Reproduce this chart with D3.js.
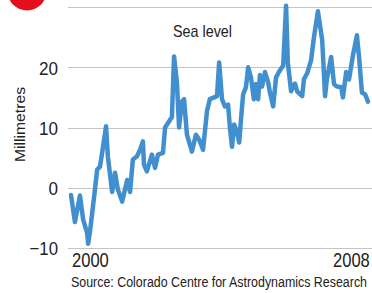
<!DOCTYPE html>
<html>
<head>
<meta charset="utf-8">
<script src="https://cdn.jsdelivr.net/npm/d3@7"></script>
<style>
  html, body { margin: 0; padding: 0; background: #fff; }
  svg { display: block; }
  text { font-family: "Liberation Sans", Arial, sans-serif; fill: #222; }
</style>
</head>
<body>
<svg id="chart" width="372" height="293"></svg>
<script>
// Sea level anomaly (mm)
const years = [
  2000.00, 2000.11, 2000.25, 2000.34, 2000.45, 2000.48, 2000.53, 2000.67, 2000.73, 2000.81,
  2000.87, 2000.98, 2001.03, 2001.15, 2001.23, 2001.31, 2001.43, 2001.57, 2001.65, 2001.73,
  2001.84, 2001.93, 2002.01, 2002.04, 2002.12, 2002.26, 2002.35, 2002.43, 2002.57, 2002.63,
  2002.77, 2002.82, 2002.88, 2002.96, 2003.02, 2003.10, 2003.16, 2003.24, 2003.38, 2003.49,
  2003.58, 2003.69, 2003.80, 2003.88, 2004.00, 2004.08, 2004.14, 2004.22, 2004.30, 2004.39,
  2004.44, 2004.50, 2004.56, 2004.64, 2004.70, 2004.75, 2004.81, 2004.89, 2004.95, 2005.03,
  2005.11, 2005.17, 2005.23, 2005.28, 2005.34, 2005.42, 2005.51, 2005.56, 2005.65, 2005.73,
  2005.81, 2005.93, 2006.01, 2006.06, 2006.15, 2006.20, 2006.26, 2006.32, 2006.46, 2006.51,
  2006.60, 2006.71, 2006.79, 2006.90, 2007.02, 2007.10, 2007.15, 2007.27, 2007.35, 2007.43,
  2007.55, 2007.60, 2007.69, 2007.77, 2007.88, 2007.99, 2008.05, 2008.13, 2008.22, 2008.30
];
const seaLevel = [
  -1.2, -5.7, -1.3, -5.3, -7.5, -9.3, -7.3, -0.3, 3.0, 3.5,
  5.8, 10.2, 5.2, -0.7, 2.5, -0.3, -2.3, 1.3, -0.7, 4.7,
  5.2, 6.3, 7.7, 3.8, 2.7, 5.5, 3.3, 5.5, 5.8, 10.0,
  11.3, 11.7, 21.8, 17.5, 10.0, 14.3, 14.7, 8.8, 6.0, 8.8,
  8.0, 6.3, 12.7, 14.7, 15.0, 15.2, 20.8, 14.7, 13.5, 13.8,
  10.0, 6.8, 10.5, 9.2, 7.5, 11.3, 15.5, 16.7, 20.0, 18.3,
  14.7, 17.2, 14.7, 18.7, 16.8, 19.2, 17.5, 15.8, 13.5, 18.3,
  19.2, 20.3, 30.2, 20.8, 16.0, 16.8, 17.3, 16.0, 15.2, 18.0,
  19.0, 21.2, 25.0, 29.3, 24.5, 15.2, 18.0, 21.7, 17.2, 16.8,
  16.7, 15.0, 19.2, 18.0, 22.0, 25.3, 21.7, 15.8, 15.5, 14.3
];
const yTicks = [-10, 0, 10, 20];
const gridValues = [-10, 0, 10, 20, 30];
const xTicks = [2000, 2008];

const svg = d3.select('#chart');
const W = 372;

const x = d3.scaleLinear().domain([2000, 2008.3]).range([71, 368]);
const y = d3.scaleLinear().domain([-10, 30]).range([248, 7]);

// condensed look: squeeze each label to its width in the reference
const squeeze = (sel, perChar) => sel.attr('textLength', function () {
  const s = this.textContent;
  return s.replace('-', '').length * perChar + (s.includes('-') ? 6 : 0);
}).attr('lengthAdjust', 'spacingAndGlyphs');

// red badge, cut off at the top
svg.append('circle').attr('cx', 27).attr('cy', -9).attr('r', 19.5).attr('fill', '#e3101c');

// gridlines
svg.append('g').selectAll('line')
  .data(gridValues)
  .join('line')
  .attr('x1', 68).attr('x2', W)
  .attr('y1', d => Math.round(y(d)) + 0.5).attr('y2', d => Math.round(y(d)) + 0.5)
  .attr('stroke', '#c4c4c4').attr('stroke-width', 1.2);

// y axis labels
const yAxis = d3.axisLeft(y).tickValues(yTicks).tickSize(0).tickPadding(0).tickFormat(d3.format('d'));
const gy = svg.append('g').attr('transform', 'translate(58,0)').call(yAxis);
gy.select('.domain').remove();
gy.selectAll('text')
  .attr('font-size', 19).attr('dy', '0.36em').attr('fill', '#222')
  .style('font-family', '"Liberation Sans", Arial, sans-serif')
  .call(squeeze, 9.5);

// x axis labels
svg.append('g').selectAll('text')
  .data(xTicks)
  .join('text')
  .attr('x', (d, i) => i === 0 ? x(d) + 1 : W - 39)
  .attr('y', 267)
  .attr('font-size', 20)
  .text(d => d)
  .call(squeeze, 9.2);

// line
const line = d3.line().x((d, i) => x(years[i])).y(d => y(d));
svg.append('path')
  .datum(seaLevel)
  .attr('d', line)
  .attr('fill', 'none')
  .attr('stroke', '#418fcf')
  .attr('stroke-width', 4.5)
  .attr('stroke-linejoin', 'round')
  .attr('stroke-linecap', 'round');

// labels
svg.append('text').attr('x', 173).attr('y', 37)
  .attr('font-size', 17).attr('textLength', 59).attr('lengthAdjust', 'spacingAndGlyphs')
  .text('Sea level');

svg.append('text')
  .attr('transform', 'translate(25,162) rotate(-90)')
  .attr('font-size', 14).attr('textLength', 75).attr('lengthAdjust', 'spacingAndGlyphs')
  .text('Millimetres');

svg.append('text').attr('x', 71).attr('y', 287)
  .attr('font-size', 14).attr('textLength', 296).attr('lengthAdjust', 'spacingAndGlyphs')
  .text('Source: Colorado Centre for Astrodynamics Research');
</script>
</body>
</html>
